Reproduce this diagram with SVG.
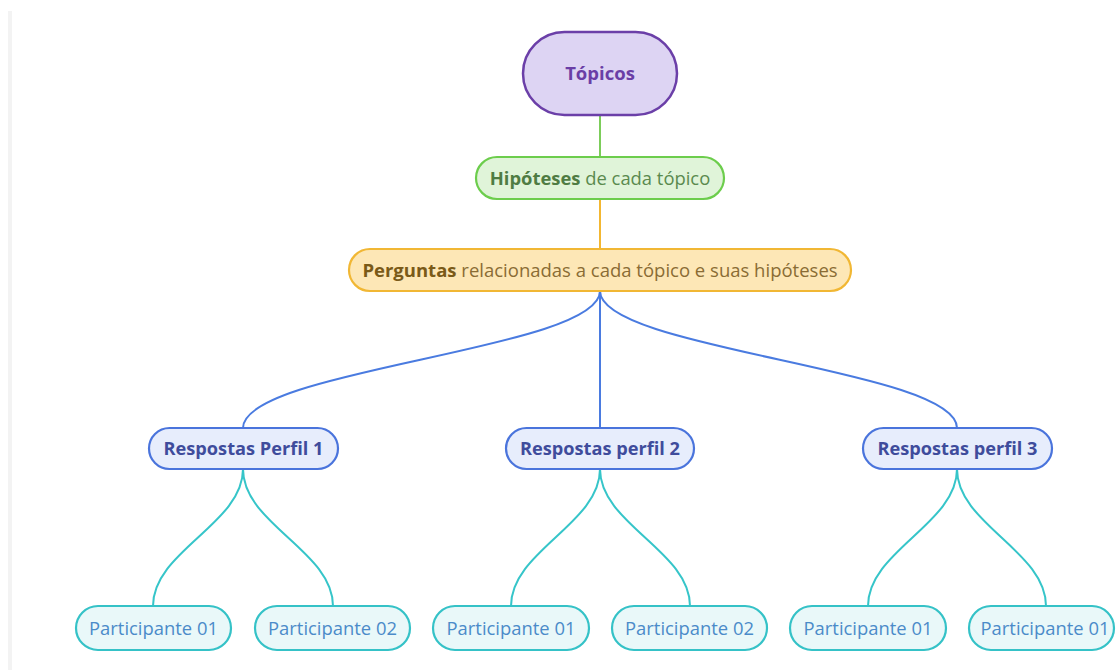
<svg xmlns="http://www.w3.org/2000/svg" width="1117" height="670" viewBox="0 0 1117 670">
  <style>
    text { font-family: "Open Sans", "Noto Sans", "Liberation Sans", sans-serif; text-anchor: middle; }
    .conn { fill: none; stroke-width: 2; }
    .c-green { stroke: #7ccd5a; }
    .c-orange { stroke: #f3b731; }
    .c-blue { stroke: #4a7be0; }
    .c-teal { stroke: #36c5c9; }
    .root rect { fill: #ddd4f3; stroke: #6b3fa8; stroke-width: 2.5; }
    .root text { fill: #6a3ea6; font-size: 18.5px; font-weight: 700; }
    .hyp rect { fill: #e0f4d9; stroke: #6ccd4c; stroke-width: 2.2; }
    .hyp text { fill: #5a8a4e; font-size: 18.4px; }
    .ask rect { fill: #fde7b6; stroke: #f1b734; stroke-width: 2.2; }
    .ask text { fill: #8a6c34; font-size: 18.5px; }
    .bold { font-weight: 700; }
    .ask .bold { fill: #7a5a18; }
    .hyp .bold { fill: #4f7c43; }
    .prof rect { fill: #e7edfc; stroke: #4a74dc; stroke-width: 2.2; }
    .prof text { fill: #3f4c9c; font-size: 18.2px; font-weight: 700; }
    .part rect { fill: #e9f8f9; stroke: #35c2c7; stroke-width: 2.2; }
    .part text { fill: #4b8bc9; font-size: 18.4px; }
  </style>

  <rect width="1117" height="670" fill="#ffffff"/>
  <rect x="8" y="11" width="4" height="659" fill="#f3f3f3"/>

  <g id="connectors">
    <path class="conn c-green" d="M600,115 V157"/>
    <path class="conn c-orange" d="M600,199 V249"/>
    <path class="conn c-blue" d="M600,291 C600,350 243,369 243,428"/>
    <path class="conn c-blue" d="M600,291 V428"/>
    <path class="conn c-blue" d="M600,291 C600,350 957,369 957,428"/>
    <path class="conn c-teal" d="M243,469 C243,524 153,551 153,606"/>
    <path class="conn c-teal" d="M243,469 C243,524 333,551 333,606"/>
    <path class="conn c-teal" d="M600,469 C600,524 511,551 511,606"/>
    <path class="conn c-teal" d="M600,469 C600,524 690,551 690,606"/>
    <path class="conn c-teal" d="M957,469 C957,524 868,551 868,606"/>
    <path class="conn c-teal" d="M957,469 C957,524 1046,551 1046,606"/>
  </g>

  <g id="topicos" class="root">
    <rect x="523" y="32" width="154" height="83" rx="41.5"/>
    <text x="600" y="80">Tópicos</text>
  </g>

  <g id="hipoteses" class="hyp">
    <rect x="476" y="157" width="248" height="42" rx="21"/>
    <text x="600" y="185"><tspan class="bold">Hipóteses</tspan> de cada tópico</text>
  </g>

  <g id="perguntas" class="ask">
    <rect x="349" y="249" width="502" height="42" rx="21"/>
    <text x="600" y="277"><tspan class="bold">Perguntas</tspan> relacionadas a cada tópico e suas hipóteses</text>
  </g>

  <g id="perfil1" class="prof">
    <rect x="149" y="428" width="189" height="41" rx="20.5"/>
    <text x="243.5" y="455">Respostas Perfil 1</text>
  </g>
  <g id="perfil2" class="prof">
    <rect x="506" y="428" width="188" height="41" rx="20.5"/>
    <text x="600" y="455">Respostas perfil 2</text>
  </g>
  <g id="perfil3" class="prof">
    <rect x="863" y="428" width="189" height="41" rx="20.5"/>
    <text x="957.5" y="455">Respostas perfil 3</text>
  </g>

  <g id="p1-part01" class="part">
    <rect x="76" y="606" width="155" height="44" rx="22"/>
    <text x="153.5" y="635">Participante 01</text>
  </g>
  <g id="p1-part02" class="part">
    <rect x="255" y="606" width="155" height="44" rx="22"/>
    <text x="332.5" y="635">Participante 02</text>
  </g>
  <g id="p2-part01" class="part">
    <rect x="433" y="606" width="156" height="44" rx="22"/>
    <text x="511" y="635">Participante 01</text>
  </g>
  <g id="p2-part02" class="part">
    <rect x="612" y="606" width="155" height="44" rx="22"/>
    <text x="689.5" y="635">Participante 02</text>
  </g>
  <g id="p3-part01" class="part">
    <rect x="790" y="606" width="156" height="44" rx="22"/>
    <text x="868" y="635">Participante 01</text>
  </g>
  <g id="p3-part02" class="part">
    <rect x="969" y="606" width="145" height="44" rx="22"/>
    <text x="1045" y="635">Participante 01</text>
  </g>
</svg>
